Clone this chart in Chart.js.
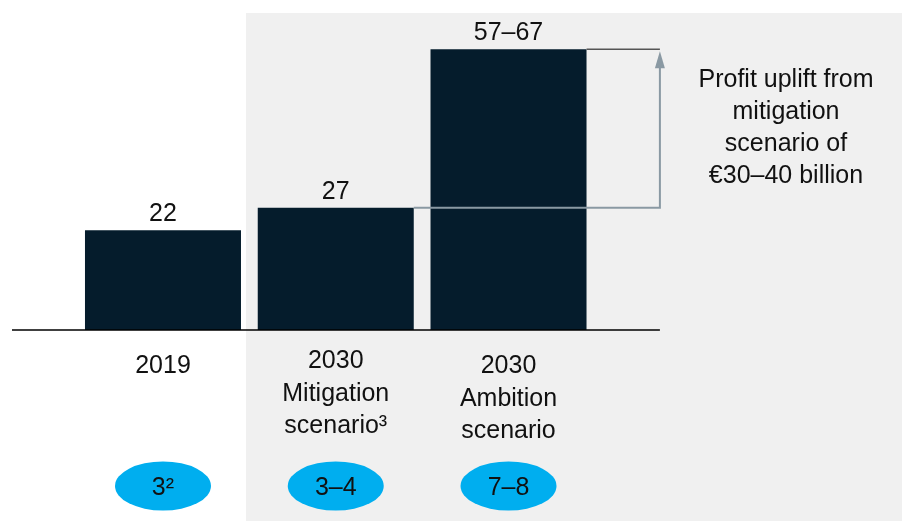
<!DOCTYPE html>
<html>
<head>
<meta charset="utf-8">
<script src="https://cdn.jsdelivr.net/npm/chart.js@4/dist/chart.umd.min.js"></script>
<style>
  html, body { margin: 0; padding: 0; background: #fff; }
  #wrap { width: 902px; height: 521px; }
</style>
</head>
<body>
<div id="wrap"><canvas id="profitChart"></canvas></div>
<script>
const categories = [['2019'], ['2030', 'Mitigation', 'scenario³'], ['2030', 'Ambition', 'scenario']];
const profitValues = [22, 27, 62];
const valueLabels = ['22', '27', '57–67'];
const bubbleLabels = ['3²', '3–4', '7–8'];
const upliftNote = ['Profit uplift from', 'mitigation', 'scenario of', '€30–40 billion'];

const FONT = '"Liberation Sans", Arial, sans-serif';
const NAVY = '#051c2c', ARROW = '#8a99a3', BUBBLE = '#00aeef', INK = '#111';

const decor = {
    id: 'decor',
    beforeDraw(chart) {
        const { ctx, chartArea: a } = chart;
        ctx.save();
        ctx.fillStyle = '#fff';
        ctx.fillRect(0, 0, chart.width, chart.height);
        ctx.fillStyle = '#f0f0f0';
        ctx.fillRect(246, a.top, chart.width - 246, chart.height - a.top);
        ctx.restore();
    },
    afterDatasetsDraw(chart) {
        const { ctx, chartArea: a } = chart;
        const bars = chart.getDatasetMeta(0).data;
        const arrowX = a.right + 65;
        ctx.save();
        // baseline
        ctx.strokeStyle = '#000'; ctx.lineWidth = 1.5;
        ctx.beginPath(); ctx.moveTo(12, a.bottom); ctx.lineTo(arrowX, a.bottom); ctx.stroke();

        // uplift bracket
        const b2 = bars[1], b3 = bars[2];
        ctx.strokeStyle = '#555'; ctx.lineWidth = 1.5;
        ctx.beginPath(); ctx.moveTo(b3.x + b3.width / 2, b3.y); ctx.lineTo(arrowX, b3.y); ctx.stroke();
        ctx.strokeStyle = ARROW; ctx.lineWidth = 2;
        ctx.beginPath();
        ctx.moveTo(b2.x + b2.width / 2, b2.y); ctx.lineTo(arrowX, b2.y); ctx.lineTo(arrowX, b3.y + 14);
        ctx.stroke();
        ctx.fillStyle = ARROW;
        ctx.beginPath();
        ctx.moveTo(arrowX, b3.y + 2); ctx.lineTo(arrowX - 5, b3.y + 19); ctx.lineTo(arrowX + 5, b3.y + 19);
        ctx.closePath(); ctx.fill();

        ctx.font = '25px ' + FONT;
        ctx.fillStyle = INK;
        ctx.textAlign = 'center';
        ctx.textBaseline = 'alphabetic';
        const shift = [0, -5, 0];
        bars.forEach((bar, i) => {
            ctx.fillStyle = INK;
            ctx.fillText(valueLabels[i], bar.x, bar.y - 9);
            categories[i].forEach((line, j) => {
                ctx.fillText(line, bar.x, 373 + shift[i] + j * 32.5);
            });
            ctx.fillStyle = BUBBLE;
            ctx.beginPath(); ctx.ellipse(bar.x, 486, 48, 24.5, 0, 0, Math.PI * 2); ctx.fill();
            ctx.fillStyle = INK;
            ctx.fillText(bubbleLabels[i], bar.x, 495);
        });
        upliftNote.forEach((line, j) => ctx.fillText(line, 786, 87 + j * 32));
        ctx.restore();
    }
};

new Chart(document.getElementById('profitChart'), {
    type: 'bar',
    data: { labels: categories, datasets: [{ data: profitValues, backgroundColor: NAVY, borderWidth: 0, barPercentage: 0.903, categoryPercentage: 1 }] },
    options: {
        responsive: true, maintainAspectRatio: false, animation: false,
        layout: { padding: { top: 13, bottom: 191, left: 76.6, right: 307.1 } },
        scales: { x: { display: false }, y: { display: false, min: 0, max: 70 } },
        plugins: { legend: { display: false }, tooltip: { enabled: false } }
    },
    plugins: [decor]
});
</script>
</body>
</html>
